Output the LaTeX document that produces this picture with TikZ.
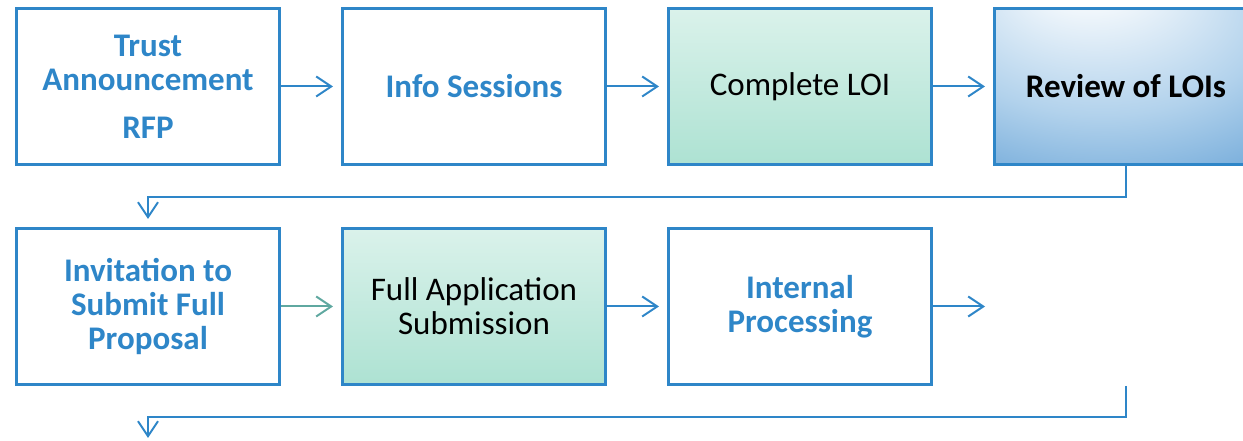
\documentclass[tikz,border=0pt]{standalone}
\usepackage{fontspec}
\setmainfont{Carlito}
\usetikzlibrary{positioning,arrows.meta}
\definecolor{boxblue}{RGB}{46,134,200}
\definecolor{flowteal}{RGB}{95,168,160}
\definecolor{loitop}{RGB}{241,250,247}
\definecolor{loimid}{RGB}{165,223,206}
\definecolor{loibottom}{RGB}{197,237,224}
\definecolor{revmid}{RGB}{178,210,236}
\definecolor{revdark}{RGB}{86,152,209}
\pgfdeclareverticalshading{loifill}{100bp}{color(0bp)=(loibottom); color(16bp)=(loimid); color(100bp)=(loitop)}
\pgfdeclareradialshading{reviewfill}{\pgfpoint{-8bp}{40bp}}{color(0bp)=(white); color(5bp)=(white); color(32bp)=(revmid); color(58bp)=(revdark); color(75bp)=(revdark)}

\begin{document}
\begin{tikzpicture}[x=1pt,y=1pt,
    stepbox/.style={draw=boxblue, line width=3pt, minimum width=263pt, minimum height=156pt,
        inner sep=0pt, align=center, font=\fontsize{33}{34}\selectfont},
    bluetext/.style={text=boxblue, font=\fontsize{33}{34}\selectfont\bfseries},
    greenbox/.style={stepbox, shade, shading=loifill},
    reviewbox/.style={stepbox, shade, shading=reviewfill},
    flow/.style={draw=boxblue, line width=2pt, -{Straight Barb[length=15pt,width=20pt]}, shorten >=8pt}]
    \clip (0,0) rectangle (1243,441);

    % first row
    \node[stepbox, bluetext] (trust) at (148,354.5) {Trust\\Announcement\\[14pt]RFP};
    \node[stepbox, bluetext, right=60pt of trust] (info) {Info Sessions};
    \node[greenbox, right=60pt of info] (loi) {Complete LOI};
    \node[reviewbox, right=60pt of loi, font=\fontsize{33}{34}\selectfont\bfseries] (review) {Review of LOIs};

    % second row
    \node[stepbox, bluetext, below=61pt of trust] (invite) {Invitation to\\Submit Full\\Proposal};
    \node[greenbox, right=60pt of invite] (full) {Full Application\\Submission};
    \node[stepbox, bluetext, right=60pt of full] (internal) {Internal\\Processing};

    \coordinate (done) at ([xshift=52pt]internal.east);
    \coordinate (loopback) at (review.south |- internal.south);
    \coordinate (nextrow) at ([yshift=-52pt]invite.south);

    \draw[flow] (trust) -- (info);
    \draw[flow] (info) -- (loi);
    \draw[flow] (loi) -- (review);
    \draw[flow] (review.south) -- ++(0,-31) -| (invite);
    \draw[flow, draw=flowteal] (invite) -- (full);
    \draw[flow] (full) -- (internal);
    \draw[flow, shorten >=0pt] (internal) -- (done);
    \draw[flow, shorten >=0pt] (loopback) -- ++(0,-31) -| (nextrow);
\end{tikzpicture}
\end{document}
